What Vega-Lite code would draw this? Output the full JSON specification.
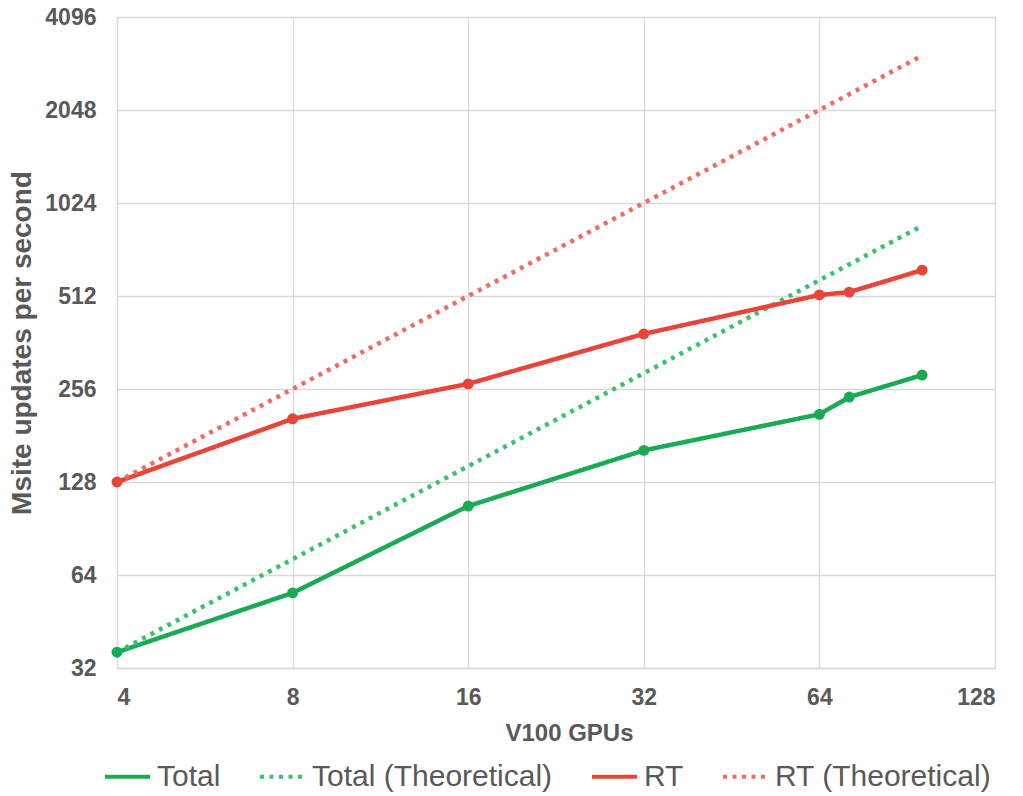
{
  "$schema": "https://vega.github.io/schema/vega-lite/v6.json",
  "width": 878,
  "height": 651,
  "autosize": {"type": "none"},
  "padding": {"left": 117, "top": 17, "right": 28, "bottom": 128},
  "background": "white",
  "config": {
    "font": "Liberation Sans",
    "view": {"stroke": null},
    "axis": {
      "labelFont": "Liberation Sans",
      "labelFontSize": 23,
      "labelFontWeight": "bold",
      "labelColor": "#595959",
      "titleFont": "Liberation Sans",
      "titleFontSize": 24,
      "titleFontWeight": "bold",
      "titleColor": "#595959",
      "gridColor": "#d9d9d9",
      "gridWidth": 1.3,
      "domainColor": "#d9d9d9",
      "domainWidth": 1.3,
      "ticks": false
    },
    "legend": {
      "labelFont": "Liberation Sans",
      "labelFontSize": 30,
      "labelColor": "#595959",
      "labelLimit": 500
    }
  },
  "data": {
    "values": [
      {"gpus": 4, "series": "Total", "value": 36},
      {"gpus": 8, "series": "Total", "value": 56},
      {"gpus": 16, "series": "Total", "value": 107},
      {"gpus": 32, "series": "Total", "value": 162},
      {"gpus": 64, "series": "Total", "value": 212},
      {"gpus": 72, "series": "Total", "value": 241},
      {"gpus": 96, "series": "Total", "value": 284},
      {"gpus": 4, "series": "Total (Theoretical)", "value": 36},
      {"gpus": 8, "series": "Total (Theoretical)", "value": 72},
      {"gpus": 16, "series": "Total (Theoretical)", "value": 144},
      {"gpus": 32, "series": "Total (Theoretical)", "value": 288},
      {"gpus": 64, "series": "Total (Theoretical)", "value": 576},
      {"gpus": 72, "series": "Total (Theoretical)", "value": 648},
      {"gpus": 96, "series": "Total (Theoretical)", "value": 864},
      {"gpus": 4, "series": "RT", "value": 128},
      {"gpus": 8, "series": "RT", "value": 205},
      {"gpus": 16, "series": "RT", "value": 266},
      {"gpus": 32, "series": "RT", "value": 386},
      {"gpus": 64, "series": "RT", "value": 516},
      {"gpus": 72, "series": "RT", "value": 527},
      {"gpus": 96, "series": "RT", "value": 621},
      {"gpus": 4, "series": "RT (Theoretical)", "value": 128},
      {"gpus": 8, "series": "RT (Theoretical)", "value": 256},
      {"gpus": 16, "series": "RT (Theoretical)", "value": 512},
      {"gpus": 32, "series": "RT (Theoretical)", "value": 1024},
      {"gpus": 64, "series": "RT (Theoretical)", "value": 2048},
      {"gpus": 72, "series": "RT (Theoretical)", "value": 2304},
      {"gpus": 96, "series": "RT (Theoretical)", "value": 3072}
    ]
  },
  "encoding": {
    "x": {
      "field": "gpus",
      "type": "quantitative",
      "scale": {"type": "log", "base": 2, "domain": [4, 128], "nice": false},
      "axis": {"values": [4, 8, 16, 32, 64, 128], "title": "V100 GPUs", "titleX": 452, "titleAlign": "center", "labelPadding": 18, "titlePadding": 12, "format": "d"}
    },
    "y": {
      "field": "value",
      "type": "quantitative",
      "scale": {"type": "log", "base": 2, "domain": [32, 4096], "nice": false},
      "axis": {"values": [32, 64, 128, 256, 512, 1024, 2048, 4096], "title": "Msite updates per second", "titleFontSize": 28, "labelPadding": 21, "titlePadding": 8, "format": "d"}
    },
    "color": {
      "field": "series",
      "type": "nominal",
      "title": null,
      "scale": {
        "domain": ["Total", "Total (Theoretical)", "RT", "RT (Theoretical)"],
        "range": ["#1aaa55", "#3dbf73", "#e8443a", "#ef6b63"]
      },
      "legend": {
        "orient": "none",
        "legendX": -14,
        "legendY": 735,
        "direction": "horizontal",
        "columns": 4,
        "symbolType": "stroke",
        "symbolSize": 2025,
        "symbolStrokeWidth": 4,
        "labelOffset": 5,
        "columnPadding": 31
      }
    }
  },
  "layer": [
    {
      "mark": {"type": "line", "strokeWidth": 4.5, "strokeCap": "butt"},
      "encoding": {
        "strokeDash": {
          "field": "series",
          "type": "nominal",
          "title": null,
          "scale": {
            "domain": ["Total", "Total (Theoretical)", "RT", "RT (Theoretical)"],
            "range": [[1, 0], [4, 5.5], [1, 0], [4, 5.5]]
          }
        }
      }
    },
    {
      "transform": [{"filter": "datum.series === 'Total' || datum.series === 'RT'"}],
      "mark": {"type": "point", "filled": true, "size": 120, "opacity": 1}
    }
  ]
}
